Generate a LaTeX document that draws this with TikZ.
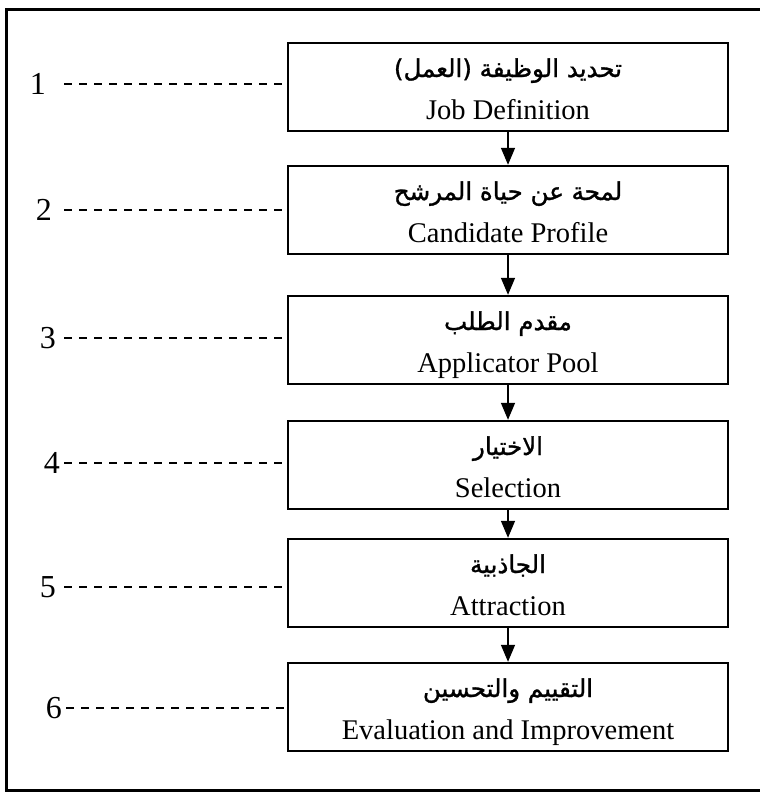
\documentclass[tikz,border=0pt]{standalone}
\usepackage{fontspec}
\setmainfont{Liberation Serif}
\newfontfamily\engfont{Liberation Serif}
\newfontfamily\arabicfont[Script=Arabic,FakeBold=1.2]{DejaVu Sans}
\TeXXeTstate=1
\usetikzlibrary{arrows.meta}
\begin{document}
\begin{tikzpicture}[x=1pt,y=-1pt,
  stagebox/.style={draw, line width=2.4pt, minimum width=440pt, minimum height=88pt, inner sep=0pt},
  artext/.style={anchor=base, font=\arabicfont\fontsize{24.5}{28}\selectfont, inner sep=0pt},
  entext/.style={anchor=base, font=\engfont\fontsize{28.5}{32}\selectfont, inner sep=0pt},
  numtext/.style={anchor=east, font=\engfont\fontsize{32}{36}\selectfont, inner sep=0pt},
  leader/.style={line width=2pt, dash pattern=on 8pt off 7pt},
  flow/.style={line width=1.5pt, -{Triangle[length=17pt,width=14pt]}}]
\useasboundingbox (0,0) rectangle (760,795);
\fill[white] (0,0) rectangle (760,795);
% outer frame
\draw[line width=3pt] (765,9) -- (6,9) -- (6,790) -- (765,790);

% boxes
\node[stagebox] (b1) at (508,87) {};
\node[stagebox] (b2) at (508,210) {};
\node[stagebox] (b3) at (508,340) {};
\node[stagebox] (b4) at (508,465) {};
\node[stagebox] (b5) at (508,583) {};
\node[stagebox] (b6) at (508,707) {};

% texts
\node[artext] (a1) at (508,77) {\beginR تحديد الوظيفة (العمل)\endR};
\node[entext] (e1) at (508,119) {Job Definition};
\node[artext] (a2) at (508,200) {\beginR لمحة عن حياة المرشح\endR};
\node[entext] (e2) at (508,242) {Candidate Profile};
\node[artext] (a3) at (508,330) {\beginR مقدم الطلب\endR};
\node[entext] (e3) at (508,372) {Applicator Pool};
\node[artext] (a4) at (508,455) {\beginR الاختيار\endR};
\node[entext] (e4) at (508,497) {Selection};
\node[artext] (a5) at (508,573) {\beginR الجاذبية\endR};
\node[entext] (e5) at (508,615) {Attraction};
\node[artext] (a6) at (508,697) {\beginR التقييم والتحسين\endR};
\node[entext] (e6) at (508,739) {Evaluation and Improvement};

% numbers
\node[numtext] (n1) at (46,84) {1};
\node[numtext] (n2) at (52,210) {2};
\node[numtext] (n3) at (56,338) {3};
\node[numtext] (n4) at (60,463) {4};
\node[numtext] (n5) at (56,587) {5};
\node[numtext] (n6) at (62,708) {6};

\coordinate (d1) at (64,84);
\coordinate (d2) at (64,210);
\coordinate (d3) at (64,338);
\coordinate (d4) at (64,463);
\coordinate (d5) at (64,587);
\coordinate (d6) at (66,708);

\foreach \i in {1,...,6}{
  \draw[leader] (d\i) -- (d\i -| b\i.west);
}

% arrows
\draw[flow] (b1.south) -- (b2.north);
\draw[flow] (b2.south) -- (b3.north);
\draw[flow] (b3.south) -- (b4.north);
\draw[flow] (b4.south) -- (b5.north);
\draw[flow] (b5.south) -- (b6.north);
\end{tikzpicture}
\end{document}
